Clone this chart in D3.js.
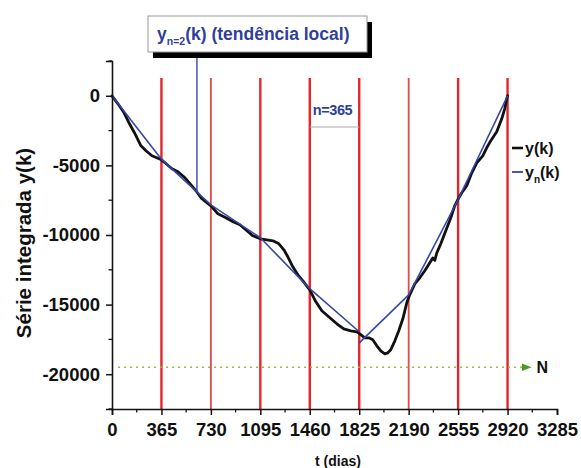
<!DOCTYPE html>
<html><head><meta charset="utf-8">
<script src="https://cdn.jsdelivr.net/npm/d3@7"></script>
<style>
body{margin:0;background:#fff}
svg{display:block}
text{font-family:"Liberation Sans",Arial,sans-serif;font-weight:bold}
</style>
</head><body>
<svg id="c" width="581" height="468"></svg>
<script>
// ---- data ----
const days = [0,44,89,133,170,214,251,295,365,391,443,487,539,583,620,657,693,730,782,841,893,944,996,1040,1095,1143,1188,1232,1269,1298,1335,1372,1409,1460,1505,1549,1608,1660,1711,1763,1807,1829,1866,1896,1925,1955,1984,2014,2036,2058,2088,2117,2147,2176,2198,2235,2272,2309,2346,2368,2383,2397,2427,2464,2501,2530,2552,2582,2619,2656,2693,2737,2766,2796,2840,2877,2899,2914,2920];
const yk = [0,-575,-1221,-2083,-2730,-3592,-3951,-4310,-4600,-4813,-5244,-5460,-5891,-6394,-6825,-7328,-7615,-7902,-8477,-8764,-9052,-9267,-9698,-10058,-10273,-10345,-10417,-10632,-11063,-11566,-12285,-12860,-13290,-13937,-14799,-15446,-15948,-16380,-16739,-16882,-16954,-17098,-17385,-17385,-17529,-17960,-18319,-18535,-18463,-18247,-17601,-16882,-16020,-14871,-14296,-13506,-13075,-12572,-11997,-11650,-11820,-11300,-10632,-9698,-8764,-7902,-7471,-6969,-6466,-5532,-4813,-4310,-3736,-3233,-2586,-1652,-934,-216,0];
const boxEdges = [0,365,730,1095,1460,1825,2190,2555,2920];
const trendStart = [0,-4550,-7830,-10200,-13850,-17750,-14300,-7450];
const trendEnd = [-4550,-7830,-10200,-13850,-16950,-14300,-7450,0];
const redLines = [365,730,1095,1460,1825,2190,2555,2920];
const xTicks = [0,365,730,1095,1460,1825,2190,2555,2920,3285];
const yTicks = [0,-5000,-10000,-15000,-20000];
const levelN = -19500;
const pointerDay = 627;
const bracket = [1460,1825];

// ---- layout ----
const svg = d3.select("#c");
const x = d3.scaleLinear().domain([0,3285]).range([112,557]);
const y = d3.scaleLinear().domain([-22500,2500]).range([409,61]);
const RED="#e3262b", BLUE="#3646a6", TXTBLUE="#2f3f9a";

// red vertical lines
svg.append("g").selectAll("line").data(redLines).join("line")
  .attr("x1",d=>x(d)).attr("x2",d=>x(d))
  .attr("y1",78).attr("y2",y(-22500))
  .attr("stroke",RED).attr("stroke-width",(d,i)=> (d===730||d===2190)?1.8:2.4)
  .attr("opacity",(d)=> (d===730||d===2190)?0.85:1);

// N dotted line
svg.append("defs").append("marker").attr("id","arr").attr("viewBox","0 0 10 10")
  .attr("refX",9).attr("refY",5).attr("markerWidth",6).attr("markerHeight",6).attr("orient","auto")
  .append("path").attr("d","M0,1L10,5L0,9Z").attr("fill","#4a9a2a");
svg.append("line").attr("x1",x(45)).attr("x2",x(3090))
  .attr("y1",y(levelN)).attr("y2",y(levelN))
  .attr("stroke","#9cb440").attr("stroke-width",1.6).attr("stroke-dasharray","2 4")
  .attr("marker-end","url(#arr)");
svg.append("text").attr("x",x(3090)+6).attr("y",y(levelN)).attr("dy","0.36em")
  .attr("font-size",16).attr("fill","#111").text("N");

// black curve
const pts = days.map((d,i)=>[d,yk[i]]);
svg.append("path").datum(pts)
  .attr("d",d3.line().x(d=>x(d[0])).y(d=>y(d[1])))
  .attr("fill","none").attr("stroke","#111").attr("stroke-width",2.8)
  .attr("stroke-linejoin","round").attr("stroke-linecap","round");

// blue local trend segments
svg.append("g").selectAll("line").data(trendStart).join("line")
  .attr("x1",(d,i)=>x(boxEdges[i])).attr("x2",(d,i)=>x(boxEdges[i+1]))
  .attr("y1",d=>y(d)).attr("y2",(d,i)=>y(trendEnd[i]))
  .attr("stroke",BLUE).attr("stroke-width",1.6);

// pointer from label to trend
{
  const k = 1; // segment index containing pointerDay
  const t = (pointerDay-boxEdges[k])/(boxEdges[k+1]-boxEdges[k]);
  const v = trendStart[k] + t*(trendEnd[k]-trendStart[k]);
  svg.append("line").attr("x1",x(pointerDay)).attr("x2",x(pointerDay))
    .attr("y1",52).attr("y2",y(v)).attr("stroke",BLUE).attr("stroke-width",1.4);
}

// label box with shadow
svg.append("rect").attr("x",153).attr("y",22).attr("width",219).attr("height",36).attr("fill","#000");
svg.append("rect").attr("x",148).attr("y",16).attr("width",219).attr("height",36)
  .attr("fill","#fff").attr("stroke","#999").attr("stroke-width",1);
const lt = svg.append("text").attr("x",157).attr("y",40).attr("font-size",17.5).attr("fill",TXTBLUE);
lt.append("tspan").text("y");
lt.append("tspan").attr("font-size",10.5).attr("dy",5).text("n=2");
lt.append("tspan").attr("dy",-5).text("(k) (tendência local)");

// n=365 bracket
svg.append("line").attr("x1",x(bracket[0])).attr("x2",x(bracket[1]))
  .attr("y1",127).attr("y2",127).attr("stroke","#aaa").attr("stroke-width",1);
svg.append("text").attr("x",x(bracket[0])+3).attr("y",115).attr("font-size",14.5)
  .attr("fill",TXTBLUE).attr("letter-spacing",-0.4).text("n=365");

// axes
const gx = svg.append("g").attr("transform",`translate(0,${y(-22500)})`)
  .call(d3.axisBottom(x).tickValues(xTicks).tickSize(6).tickPadding(8).tickFormat(d=>String(d)));
const gy = svg.append("g").attr("transform",`translate(${x(0)},0)`)
  .call(d3.axisLeft(y).tickValues(yTicks).tickSize(6).tickPadding(6).tickFormat(d=>String(d)));
[gx,gy].forEach(g=>{
  g.select(".domain").attr("stroke","#111").attr("stroke-width",1.6);
  g.selectAll(".tick line").attr("stroke","#111").attr("stroke-width",1.5);
  g.selectAll(".tick text").attr("font-size",18.5).attr("fill","#111")
   .attr("font-family",'"Liberation Sans",Arial,sans-serif').attr("font-weight","bold");
});
// minor ticks
const xMinor = xTicks.slice(0,-1).map(d=>d+182.5);
svg.append("g").selectAll("line").data(xMinor).join("line")
  .attr("x1",d=>x(d)).attr("x2",d=>x(d)).attr("y1",y(-22500)).attr("y2",y(-22500)+3.5)
  .attr("stroke","#111").attr("stroke-width",1.3);
const yMinor = [2500,-2500,-7500,-12500,-17500,-22500];
svg.append("g").selectAll("line").data(yMinor).join("line")
  .attr("x1",x(0)).attr("x2",x(0)-3.5).attr("y1",d=>y(d)).attr("y2",d=>y(d))
  .attr("stroke","#111").attr("stroke-width",1.3);

// axis titles
svg.append("text").attr("x",338).attr("y",466).attr("text-anchor","middle")
  .attr("font-size",14).attr("fill","#111").text("t (dias)");
svg.append("text").attr("transform","translate(31,243) rotate(-90)").attr("text-anchor","middle")
  .attr("font-size",20.5).attr("fill","#111").text("Série integrada y(k)");

// legend
svg.append("line").attr("x1",512).attr("x2",523).attr("y1",148).attr("y2",148)
  .attr("stroke","#111").attr("stroke-width",2.6);
svg.append("text").attr("x",525).attr("y",154).attr("font-size",16).attr("fill","#111").text("y(k)");
svg.append("line").attr("x1",512).attr("x2",523).attr("y1",172).attr("y2",172)
  .attr("stroke",BLUE).attr("stroke-width",1.8);
const lg = svg.append("text").attr("x",525).attr("y",178).attr("font-size",16).attr("fill","#111");
lg.append("tspan").text("y");
lg.append("tspan").attr("font-size",10).attr("dy",5).text("n");
lg.append("tspan").attr("dy",-5).text("(k)");
</script>
</body></html>
